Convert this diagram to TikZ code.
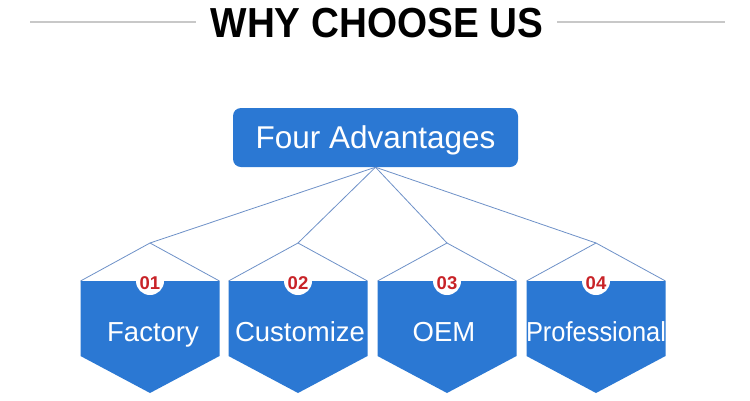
\documentclass[tikz,border=0pt]{standalone}
\usepackage{fontspec}
\setmainfont{Liberation Sans}
\definecolor{mainblue}{RGB}{43,120,211}
\definecolor{linkblue}{RGB}{110,145,200}
\definecolor{numred}{RGB}{200,35,40}
\definecolor{rulegray}{RGB}{200,200,200}
\tikzset{
  titletext/.style={font=\fontsize{42}{42}\selectfont\bfseries, inner sep=0pt, xscale=0.92},
  topbox/.style={fill=mainblue, rounded corners=8pt, minimum width=285pt, minimum height=59pt, inner sep=0pt, text=white, text height=30pt, text depth=8pt, font=\fontsize{31.5}{31.5}\selectfont},
  link/.style={draw=linkblue, line width=0.8pt},
  hexfill/.style={fill=mainblue},
  numdisc/.style={circle, fill=white, minimum size=28pt, inner sep=0pt},
  numtext/.style={text=numred, font=\fontsize{18.5}{18.5}\selectfont\bfseries, inner sep=0pt, anchor=base},
  labeltext/.style={text=white, font=\fontsize{27.5}{27.5}\selectfont, inner sep=0pt, anchor=base},
  rule/.style={draw=rulegray, line width=2pt}
}
\begin{document}
\begin{tikzpicture}[x=1pt,y=-1pt]
\useasboundingbox[fill=white] (0,0) rectangle (750,400);
% title
\node[titletext] (title) at (377,23) {WHY CHOOSE US};
\coordinate (ll) at (30,22);
\coordinate (lr) at (196,22);
\coordinate (rl) at (557,22);
\coordinate (rr) at (725,22);
\draw[rule] (ll) -- (lr);
\draw[rule] (rl) -- (rr);
% top box
\node[topbox] (top) at (375.5,137.5) {Four Advantages};
% hexagons
\foreach \i/\cx/\num/\lab/\lx/\sc in {1/150/01/Factory/153/1,2/298/02/Customize/300/1,3/447/03/OEM/444/1,4/596/04/Professional/596/0.925}{
  \fill[hexfill] (\cx-69.5,281) -- (\cx+69.5,281) -- (\cx+69.5,356) -- (\cx,393) -- (\cx-69.5,356) -- cycle;
  \coordinate (apex\i) at (\cx,243);
  \coordinate (sl\i) at (\cx-69.5,281);
  \coordinate (sr\i) at (\cx+69.5,281);
  \draw[link] (sl\i) -- (apex\i) -- (sr\i);
  \node[numdisc] (disc\i) at (\cx,281) {};
  \node[numtext] (num\i) at (\cx,289) {\num};
  \node[labeltext, xscale=\sc] (lab\i) at (\lx,341) {\lab};
  \draw[link] (top.south) -- (apex\i);
}
\end{tikzpicture}
\end{document}
